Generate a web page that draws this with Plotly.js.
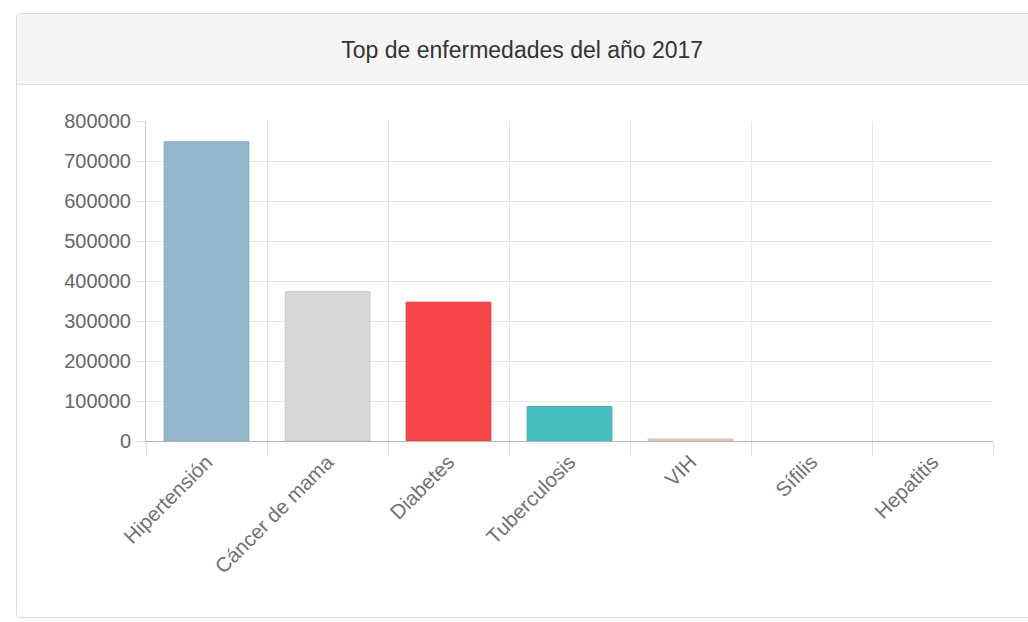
<!DOCTYPE html>
<html>
<head>
<meta charset="utf-8">
<script src="https://cdn.plot.ly/plotly-3.0.1.min.js"></script>
<style>
  html, body { margin:0; padding:0; background:#ffffff; width:1028px; height:622px; overflow:hidden; }
  #panel { position:absolute; left:16px; top:13px; width:1020px; height:605px; border:1px solid #dcdcdc; border-radius:4px; background:#fff; box-sizing:border-box; }
  #header { position:absolute; left:0; top:0; right:0; height:70px; background:#f5f5f5; border-bottom:1px solid #e0e0e0; border-radius:4px 4px 0 0; }
  #chart { position:absolute; left:0; top:0; width:1028px; height:622px; }
</style>
</head>
<body>
<div id="panel"><div id="header"></div></div>
<div id="chart"></div>
<script>
const categories = ["Hipertensión", "Cáncer de mama", "Diabetes", "Tuberculosis", "VIH", "Sífilis", "Hepatitis"];
const values = [748000, 373000, 347000, 86000, 5000, 300, 200];
const barColors = ["#93b6cb", "#d9d9d9", "#f7464a", "#46bfbd", "#ecdcca", "#f2f2f2", "#f2f2f2"];
const barBorders = ["#86a8bd", "#c6c6c6", "#e03c40", "#3eaeac", "#cdb8a4", "#f2f2f2", "#f2f2f2"];
const yTicks = [0, 100000, 200000, 300000, 400000, 500000, 600000, 700000, 800000];
const titleText = "Top de enfermedades del año 2017";

const trace = {
  type: "bar",
  x: categories,
  y: values,
  marker: { color: barColors, line: { color: barBorders, width: [1, 1, 1, 1, 1, 0, 0] } },
  hoverinfo: "x+y"
};

const layout = {
  width: 1028, height: 622,
  margin: { l: 146, r: 35, t: 121, b: 181 },
  paper_bgcolor: "rgba(0,0,0,0)",
  plot_bgcolor: "rgba(0,0,0,0)",
  font: { family: "Liberation Sans, Arial, sans-serif", color: "#666666" },
  title: {
    text: titleText,
    font: { family: "Liberation Sans, Arial, sans-serif", size: 23, color: "#333333" },
    xref: "container", yref: "container", x: 0.508, y: 0.919, xanchor: "center", yanchor: "middle"
  },
  bargap: 0.3,
  showlegend: false,
  xaxis: {
    type: "category",
    tickson: "boundaries",
    ticks: "outside", ticklen: 14, tickcolor: "#e3e3e3", tickwidth: 1,
    showgrid: true, gridcolor: "#e6e6e6", gridwidth: 1,
    showline: true, linecolor: "#b5b5b5", linewidth: 1,
    tickangle: -45,
    tickfont: { size: 20.5, color: "#727272" },
    range: [-0.5, 6.5]
  },
  yaxis: {
    range: [0, 800000],
    tickvals: yTicks,
    ticktext: yTicks.map(String),
    ticks: "outside", ticklen: 10, tickcolor: "#e3e3e3",
    showgrid: true, gridcolor: "#e6e6e6",
    showline: true, linecolor: "#cfcfcf",
    zeroline: false,
    tickfont: { size: 20, color: "#666666" }
  }
};

Plotly.newPlot("chart", [trace], layout, { displayModeBar: false, staticPlot: true });
</script>
</body>
</html>
